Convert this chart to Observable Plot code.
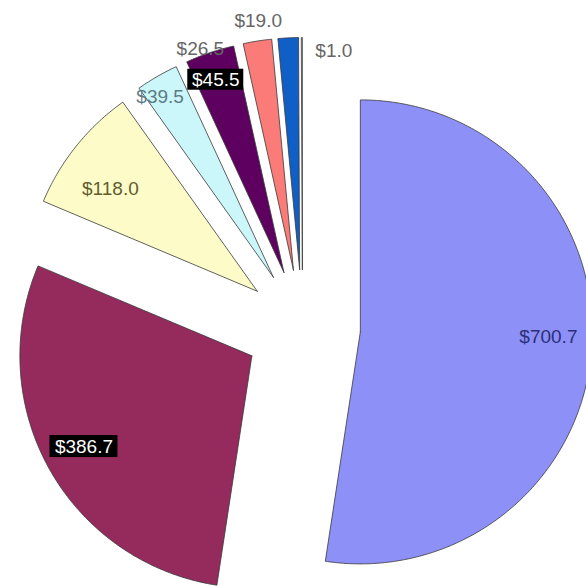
<!DOCTYPE html>
<html><head><meta charset="utf-8">
<script src="https://cdn.jsdelivr.net/npm/d3@7"></script>
<script src="https://cdn.jsdelivr.net/npm/@observablehq/plot@0.6"></script>
<style>body{margin:0;background:#fff;font-family:"Liberation Sans",Arial,sans-serif}</style>
</head><body><div id="chart"></div>
<script>
const categories = ["$700.7","$386.7","$118.0","$39.5","$45.5","$26.5","$19.0","$1.0"];
const values = [700.7, 386.7, 118.0, 39.5, 45.5, 26.5, 19.0, 1.0];
const sliceColors = ["#8c90f7","#952a5d","#fdfcc8","#cbf6fa","#5e0060","#fb7b79","#105fc6","#c4d2e6"];

const W = 586, H = 588;
const cx = 302, cy = 327, R = 232;   // layout of the pie in the frame
const explode = 0.25;                 // explode distance in radius units

const arcs = d3.pie().sort(null)(values);
const total = d3.sum(values);
const pts = [];
const labelData = [];
arcs.forEach((a, i) => {
  const mid = (a.startAngle + a.endAngle) / 2;
  const ox = explode * Math.sin(mid), oy = explode * Math.cos(mid);
  const n = Math.max(2, Math.ceil((a.endAngle - a.startAngle) / 0.01));
  pts.push({cat: categories[i], x: ox, y: oy});
  for (let k = 0; k <= n; k++) {
    const t = a.startAngle + (a.endAngle - a.startAngle) * k / n;
    pts.push({cat: categories[i], x: ox + Math.sin(t), y: oy + Math.cos(t)});
  }
  pts.push({cat: categories[i], x: ox, y: oy});
  const kr = values[i] / total > 0.05 ? 0.8 : 1.0;
  labelData.push({cat: categories[i], x: ox + kr * Math.sin(mid), y: oy + kr * Math.cos(mid)});
});

const labelStyle = {
  "$700.7": {fill: "#2c2e78", dx: 3, dy: -9},
  "$386.7": {fill: "#ffffff", dx: -6, dy: 0, box: [68, 22]},
  "$118.0": {fill: "#5f5d2e", dx: -2, dy: 14},
  "$39.5": {fill: "#5b7c84", dx: 3, dy: 20},
  "$45.5": {fill: "#ffffff", dx: 6, dy: 27, box: [56, 21]},
  "$26.5": {fill: "#666666", dx: -57, dy: 8},
  "$19.0": {fill: "#666666", dx: -30, dy: -17},
  "$1.0": {fill: "#666666", dx: 32, dy: 13}
};

const labelMarks = [];
for (const c of categories) {
  const s = labelStyle[c];
  const d = labelData.filter(e => e.cat === c);
  if (s.box) {
    labelMarks.push(Plot.rect(d, {x1: "x", x2: "x", y1: "y", y2: "y", fill: "black",
      insetLeft: -s.box[0] / 2, insetRight: -s.box[0] / 2, insetTop: -s.box[1] / 2, insetBottom: -s.box[1] / 2,
      dx: s.dx, dy: s.dy}));
  }
  labelMarks.push(Plot.text(d, {x: "x", y: "y", text: "cat", fill: s.fill, fontSize: 19,
    fontFamily: "Liberation Sans, Arial, sans-serif", dx: s.dx, dy: s.dy}));
}

const chart = Plot.plot({
  width: W, height: H,
  margin: 0,
  style: {background: "#fff", overflow: "visible"},
  x: {domain: [(0 - cx) / R, (W - cx) / R], axis: null},
  y: {domain: [(cy - H) / R, cy / R], axis: null},
  color: {domain: categories, range: sliceColors},
  marks: [
    Plot.line(pts, {x: "x", y: "y", z: "cat", fill: "cat", stroke: "#3a3a3a", strokeWidth: 1, strokeOpacity: 0.8, curve: "linear"}),
    ...labelMarks
  ]
});
document.getElementById("chart").appendChild(chart);
</script>
</body></html>
